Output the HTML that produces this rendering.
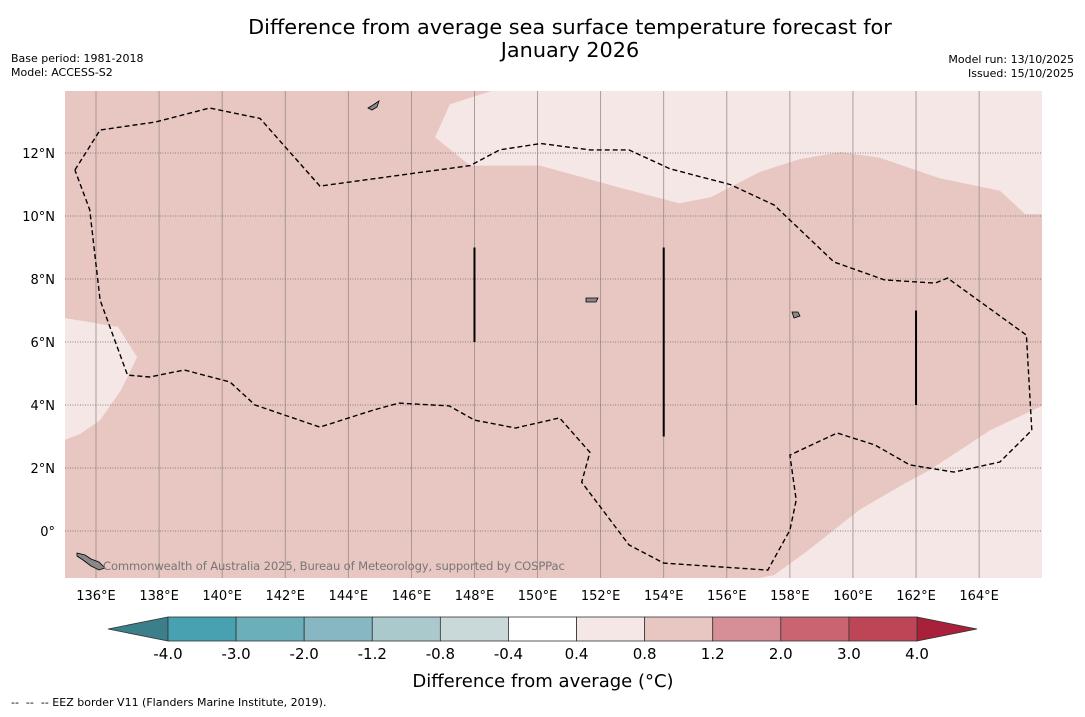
<!DOCTYPE html>
<html><head><meta charset="utf-8"><style>
body{margin:0;background:#fff;width:1085px;height:713px;overflow:hidden;font-family:"DejaVu Sans","Liberation Sans",sans-serif;}
svg text{font-family:"DejaVu Sans","Liberation Sans",sans-serif;}
</style></head><body>
<svg id="chart" width="1085" height="713" xmlns="http://www.w3.org/2000/svg">
<text x="570" y="34" font-size="20.8" text-anchor="middle" fill="#000">Difference from average sea surface temperature forecast for</text>
<text x="570" y="57" font-size="20.8" text-anchor="middle" fill="#000">January 2026</text>
<text x="11" y="62" font-size="11">Base period: 1981-2018</text>
<text x="11" y="76" font-size="11">Model: ACCESS-S2</text>
<text x="1074" y="63" font-size="11" text-anchor="end">Model run: 13/10/2025</text>
<text x="1074" y="77" font-size="11" text-anchor="end">Issued: 15/10/2025</text>
<g id="map"></g>
<g id="cbar"></g>
<text x="543" y="687" font-size="18" text-anchor="middle">Difference from average (°C)</text>
<text x="11" y="706" font-size="11" xml:space="preserve">--  --  -- EEZ border V11 (Flanders Marine Institute, 2019).</text>
</svg>
<script>
const lonTicks=[136,138,140,142,144,146,148,150,152,154,156,158,160,162,164];
const latTicks=[0,2,4,6,8,10,12];
const cbLevels=["-4.0","-3.0","-2.0","-1.2","-0.8","-0.4","0.4","0.8","1.2","2.0","3.0","4.0"];
const cbColors=["#47a1b0","#6aafba","#87b7c2","#a9c9cd","#c9d8d8","#ffffff","#f5e7e5","#e8c7c2","#d68f96","#c86570","#bd4656"];
const lightTop=[[148.55,13.97],[147.22,13.55],[146.75,12.5],[147.86,11.6],[150.08,11.6],[152.6,10.9],[154.5,10.4],[155.5,10.6],[157.05,11.4],[158.3,11.8],[159.6,12.03],[160.85,11.85],[162.75,11.2],[164.66,10.8],[165.46,10.06],[166,10.06],[166,13.97]];
const lightLeft=[[135,6.76],[136.7,6.48],[137.3,5.52],[136.8,4.48],[136.13,3.52],[135.5,3.08],[135,2.89]];
const lightBR=[[166,3.97],[164.35,3.2],[162.44,1.94],[161.5,1.43],[160.2,0.67],[158.6,-0.6],[157.5,-1.4],[157.0,-1.5],[166,-1.5]];
const eez=[[135.33,11.46],[136.13,12.73],[137.87,12.98],[139.6,13.43],[141.2,13.1],[143.1,10.95],[147.86,11.6],[148.8,12.1],[150.1,12.3],[151.66,12.1],[152.9,12.1],[154.2,11.5],[156.1,11.0],[157.5,10.35],[159.4,8.54],[161.0,7.97],[162.6,7.87],[163.0,8.03],[165.5,6.22],[165.67,3.2],[164.66,2.19],[163.2,1.87],[161.8,2.1],[160.7,2.73],[159.5,3.11],[158.0,2.41],[158.2,0.98],[158.0,0.03],[157.3,-1.24],[154.0,-1.02],[152.9,-0.44],[151.4,1.55],[151.66,2.5],[150.7,3.59],[149.3,3.27],[148.0,3.52],[147.2,3.97],[145.6,4.06],[144.8,3.84],[143.1,3.3],[141.04,4.0],[140.25,4.73],[138.8,5.11],[137.7,4.89],[137.0,4.95],[136.13,7.33],[135.8,10.2],[135.33,11.46]];
const segLon=[148,154,162];
const segLat0=[6,3,4];
const segLat1=[9,9,7];
const NS="http://www.w3.org/2000/svg";
const X0=65,X1=1042,Y0=91,Y1=578;
const x=lon=>96+(lon-136)*31.54;
const y=lat=>531-lat*31.5;
function mk(t,a,p){const e=document.createElementNS(NS,t);for(const k in a)e.setAttribute(k,a[k]);p.appendChild(e);return e;}
const map=document.getElementById('map');
mk('defs',{},map).innerHTML='<clipPath id="cp"><rect x="65" y="91" width="977" height="487"/></clipPath>';
const g=mk('g',{'clip-path':'url(#cp)'},map);
const bg=mk('rect',{x:X0,y:Y0,width:X1-X0,height:Y1-Y0,fill:'#e8c7c2'},g);


const pts=a=>a.map(p=>x(p[0]).toFixed(1)+','+y(p[1]).toFixed(1)).join(' ');
[[lightTop,'light-region-north'],[lightLeft,'light-region-west'],[lightBR,'light-region-southeast']].forEach(([a,n])=>{
 const p=mk('polygon',{points:pts(a),fill:'#f5e7e5'},g);
 
 
});
lonTicks.forEach(l=>{
 const ln=mk('line',{x1:x(l),x2:x(l),y1:Y0,y2:Y1,stroke:'#9a8a88','stroke-width':0.8},g);
 
 
 const t=mk('text',{x:x(l),y:600,'font-size':13,'text-anchor':'middle'},map);t.textContent=l+'°E';
 
 
});
latTicks.forEach(l=>{
 const ln=mk('line',{x1:X0,x2:X1,y1:y(l),y2:y(l),stroke:'#666','stroke-width':0.8,'stroke-dasharray':'1,1.5'},g);
 
 
 const t=mk('text',{x:55,y:y(l)+5,'font-size':13,'text-anchor':'end'},map);t.textContent=l===0?'0°':l+'°N';
 
 
});
const e=mk('polyline',{points:pts(eez),fill:'none',stroke:'#000','stroke-width':1.4,'stroke-dasharray':'5,3'},g);


segLon.forEach((l,i)=>{
 const s=mk('line',{x1:x(l),x2:x(l),y1:y(segLat1[i]),y2:y(segLat0[i]),stroke:'#000','stroke-width':2},g);
 
 
});
const isl=mk('path',{d:'M77,553 l8,2 l6,4 l8,3 l6,6 l-6,2 l-8,-4 l-8,-6 l-6,-4z M368,108 l5,-3 l6,-4 l-2,6 l-5,3z M792,312 l6,0 l2,4 l-6,2z M586,298 l12,0 l-2,4 l-10,0z',fill:'#888',stroke:'#000','stroke-width':0.8},g);


const cr=mk('text',{x:103,y:570,'font-size':11.6,fill:'#777','letter-spacing':'-0.15'},g);cr.textContent='Commonwealth of Australia 2025, Bureau of Meteorology, supported by COSPPac';


// colorbar
const cb=document.getElementById('cbar');
const CB0=168,CB1=917,CY0=617,CY1=641,w=(CB1-CB0)/cbColors.length;
const lt=mk('polygon',{points:`${CB0},${CY0} 108,629 ${CB0},${CY1}`,fill:'#3a7f8a',stroke:'#333','stroke-width':0.8},cb);


const rt=mk('polygon',{points:`${CB1},${CY0} 977,629 ${CB1},${CY1}`,fill:'#a8203a',stroke:'#333','stroke-width':0.8},cb);


cbColors.forEach((c,i)=>{
 const r=mk('rect',{x:CB0+i*w,y:CY0,width:w,height:CY1-CY0,fill:c,stroke:'#333','stroke-width':0.8},cb);
 
 
});
cbLevels.forEach((v,i)=>{
 const t=mk('text',{x:CB0+i*w,y:659,'font-size':15,'text-anchor':'middle'},cb);t.textContent=v;
 
 
});
</script>
</body></html>
